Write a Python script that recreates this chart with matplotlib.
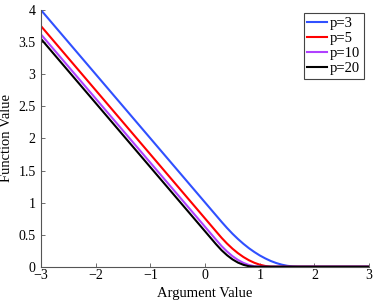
import matplotlib
matplotlib.use('Agg')
import matplotlib.pyplot as plt

x = [-3, -2, -1, -0.5, 0, 0.1, 0.2, 0.3, 0.4, 0.5, 0.6, 0.7, 0.8, 0.9,
     1.0, 1.1, 1.2, 1.3, 1.4, 1.5, 1.6, 1.7, 1.8, 2.0, 3.0]

f_p3 = [4.0, 3.0, 2.0, 1.5, 1.0, 0.9, 0.8, 0.7, 0.604, 0.514, 0.432, 0.357,
        0.289, 0.229, 0.175, 0.129, 0.089, 0.057, 0.032, 0.014, 0.004, 0.0,
        0.0, 0.0, 0.0]
f_p5 = [3.75, 2.75, 1.75, 1.25, 0.75, 0.65, 0.55, 0.451, 0.361, 0.281, 0.211,
        0.151, 0.101, 0.061, 0.031, 0.011, 0.001, 0.0, 0.0, 0.0, 0.0, 0.0,
        0.0, 0.0, 0.0]
f_p10 = [3.62, 2.62, 1.62, 1.12, 0.62, 0.52, 0.42, 0.322, 0.237, 0.164, 0.105,
         0.059, 0.026, 0.007, 0.0, 0.0, 0.0, 0.0, 0.0, 0.0, 0.0, 0.0,
         0.0, 0.0, 0.0]
f_p20 = [3.55, 2.55, 1.55, 1.05, 0.55, 0.45, 0.35, 0.257, 0.179, 0.114, 0.064,
         0.029, 0.007, 0.0, 0.0, 0.0, 0.0, 0.0, 0.0, 0.0, 0.0, 0.0,
         0.0, 0.0, 0.0]

labels = ['p=3', 'p=5', 'p=10', 'p=20']
xticks = [-3, -2, -1, 0, 1, 2, 3]
yticks = [0, 0.5, 1, 1.5, 2, 2.5, 3, 3.5, 4]

plt.rcParams['font.family'] = ['Liberation Serif', 'DejaVu Serif']
plt.rcParams['axes.unicode_minus'] = True

fig = plt.figure(figsize=(3.74, 3.01), dpi=100)
ax = fig.add_axes([0.110, 0.114, 0.877, 0.852])

ax.plot(x, f_p3, color='#3050ff', lw=1.5, label=labels[0])
ax.plot(x, f_p5, color='#ff0000', lw=1.5, label=labels[1])
ax.plot(x, f_p10, color='#b040ff', lw=1.5, label=labels[2])
ax.plot(x, f_p20, color='#000000', lw=1.5, label=labels[3])

ax.set_xlim(-3, 3)
ax.set_ylim(0, 4)
ax.set_xticks(xticks)
ax.set_yticks(yticks)
ax.set_xticklabels([str(t) if t >= 0 else '\u2212' + str(-t) for t in xticks])
ax.set_yticklabels(['0', '0.5', '1', '1.5', '2', '2.5', '3', '3.5', '4'])

for s in ['top', 'right']:
    ax.spines[s].set_visible(False)
for s in ['left', 'bottom']:
    ax.spines[s].set_color('#555555')
    ax.spines[s].set_linewidth(0.8)
ax.tick_params(direction='in', length=3, width=0.6, color='#555555',
               labelsize=10)
ax.tick_params(axis='x', pad=2)
ax.tick_params(axis='y', pad=4)

ax.set_xlabel('Argument Value', fontsize=10.5)
ax.set_ylabel('Function Value', fontsize=10.5)
ax.xaxis.set_label_coords(0.5, -0.079)
ax.yaxis.set_label_coords(-0.087, 0.5)

leg = ax.legend(loc='upper right', bbox_to_anchor=(0.973, 0.956),
                bbox_transform=fig.transFigure, borderaxespad=0,
                fontsize=10.5, handlelength=1.35, handletextpad=0.2,
                labelspacing=0.12, borderpad=0.25, fancybox=False,
                framealpha=1)
leg.get_frame().set_edgecolor('#444444')
leg.get_frame().set_linewidth(0.8)

fig.savefig('out.png', dpi=100)
